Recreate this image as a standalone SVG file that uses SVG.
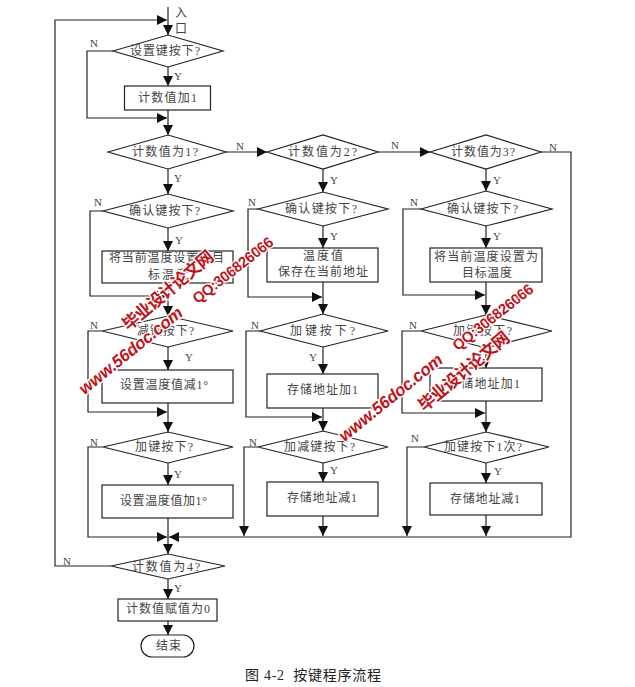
<svg xmlns="http://www.w3.org/2000/svg" width="635" height="687" viewBox="0 0 635 687">
<style>
.s{fill:#fff;stroke:#222;stroke-width:1.2}
.c{fill:none;stroke:#222;stroke-width:1.2;marker-end:url(#a)}
.p{fill:none;stroke:#222;stroke-width:1.2}
text{font-family:"Liberation Serif","Noto Sans CJK SC",serif;font-size:12px;fill:#444;dominant-baseline:central}
.l{font-size:11px;fill:#444}
.cap{font-size:14px;fill:#222}
.w{font-family:"Liberation Sans","Noto Sans CJK SC",sans-serif;font-weight:700;fill:#bd141c;stroke:#fff;stroke-width:2.5;paint-order:stroke;font-size:17px}
</style>
<defs><marker id="a" markerUnits="userSpaceOnUse" markerWidth="11" markerHeight="10" refX="10" refY="5" orient="auto"><path d="M0 0L10 5L0 10Z" fill="#111"/></marker></defs>
<rect width="635" height="687" fill="#fff"/>
<g id="connectors">
<path class="c" d="M168 7V35"/>
<path class="c" d="M111 566H55V20H167"/>
<path class="c" d="M168 67V86"/>
<path class="c" d="M168 110V135"/>
<path class="c" d="M113 51H87V118H167"/>
<path class="c" d="M168 169V194"/>
<path class="c" d="M226 152H267"/>
<path class="c" d="M378 152H430"/>
<path class="c" d="M541 152H571V537H169"/>
<path class="c" d="M168 228V251"/>
<path class="c" d="M103 211H90V296H167"/>
<path class="c" d="M168 283V316"/>
<path class="c" d="M168 347V370"/>
<path class="c" d="M102 331H88V412H167"/>
<path class="c" d="M168 403V432"/>
<path class="c" d="M168 463V485"/>
<path class="c" d="M103 447H88V537H167"/>
<path class="p" d="M168 518V537"/>
<path class="c" d="M168 537V554"/>
<path class="c" d="M168 579V599"/>
<path class="c" d="M168 621V635"/>
<path class="c" d="M323 169V192"/>
<path class="c" d="M323 226V248"/>
<path class="c" d="M258 209H248V297H322"/>
<path class="c" d="M323 282V314"/>
<path class="c" d="M323 347V374"/>
<path class="c" d="M260 331H246V417H322"/>
<path class="c" d="M323 408V431"/>
<path class="c" d="M323 463V482"/>
<path class="c" d="M258 447H244V536"/>
<path class="c" d="M323 516V536"/>
<path class="c" d="M486 169V191"/>
<path class="c" d="M486 226V248"/>
<path class="c" d="M421 209H403V295H485"/>
<path class="c" d="M486 282V315"/>
<path class="c" d="M486 348V368"/>
<path class="c" d="M421 331H402V413H485"/>
<path class="c" d="M486 401V432"/>
<path class="c" d="M486 463V483"/>
<path class="c" d="M424 447H407V536"/>
<path class="c" d="M486 515V536"/>
</g>
<g id="entry"><text x="175" y="13">入</text><text x="175" y="29">口</text></g>
<g id="d1"><path class="s" d="M113 51L168 35L223 51L168 67Z"/><text x="130" y="51" textLength="70">设置键按下?</text></g>
<g id="r1"><rect class="s" x="124.500" y="86" width="86" height="24"/><text x="138" y="98" textLength="59">计数值加1</text></g>
<g id="d2"><path class="s" d="M108 152L168 135L226 152L168 169Z"/><text x="132" y="152" textLength="66">计数值为1?</text></g>
<g id="d3"><path class="s" d="M267 152L323 135L378 152L323 169Z"/><text x="288" y="152" textLength="69">计数值为2?</text></g>
<g id="d4"><path class="s" d="M430 152L486 135L541 152L486 169Z"/><text x="451" y="152" textLength="64">计数值为3?</text></g>
<g id="d5"><path class="s" d="M103 211L168 194L233 211L168 228Z"/><text x="129" y="211" textLength="71">确认键按下?</text></g>
<g id="d6"><path class="s" d="M258 209L323 192L388 209L323 226Z"/><text x="285" y="209" textLength="72">确认键按下?</text></g>
<g id="d7"><path class="s" d="M421 209L486 191L552 209L486 226Z"/><text x="447" y="209" textLength="71">确认键按下?</text></g>
<g id="r2"><rect class="s" x="102" y="251" width="131" height="32"/><text x="109" y="258" textLength="115">将当前温度设置为目</text><text x="148" y="275" textLength="40">标温度</text></g>
<g id="r3"><rect class="s" x="267" y="248" width="111" height="34"/><text x="303" y="256" textLength="40">温度值</text><text x="278" y="272" textLength="90">保存在当前地址</text></g>
<g id="r4"><rect class="s" x="430" y="248" width="112" height="34"/><text x="434" y="257" textLength="104">将当前温度设置为</text><text x="462" y="273" textLength="50">目标温度</text></g>
<g id="d8"><path class="s" d="M102 331L168 316L233 331L168 347Z"/><text x="137" y="331" textLength="57">减键按下?</text></g>
<g id="d9"><path class="s" d="M260 331L323 314L388 331L323 347Z"/><text x="290" y="331" textLength="65">加键按下?</text></g>
<g id="d10"><path class="s" d="M421 331L486 315L552 331L486 348Z"/><text x="453" y="331" textLength="59">加键按下?</text></g>
<g id="r5"><rect class="s" x="102" y="370" width="131" height="33"/><text x="120" y="385" textLength="88">设置温度值减1°</text></g>
<g id="r6"><rect class="s" x="267" y="374" width="111" height="34"/><text x="287" y="390" textLength="71">存储地址加1</text></g>
<g id="r7"><rect class="s" x="430" y="368" width="112" height="33"/><text x="448" y="384" textLength="72">存储地址加1</text></g>
<g id="d11"><path class="s" d="M103 447L168 432L233 447L168 463Z"/><text x="135" y="447" textLength="58">加键按下?</text></g>
<g id="d12"><path class="s" d="M258 447L323 431L388 447L323 463Z"/><text x="284" y="447" textLength="71">加减键按下?</text></g>
<g id="d13"><path class="s" d="M424 447L486 432L549 447L486 463Z"/><text x="444" y="447" textLength="78">加键按下1次?</text></g>
<g id="r8"><rect class="s" x="102" y="485" width="131" height="33"/><text x="120" y="501" textLength="87">设置温度值加1°</text></g>
<g id="r9"><rect class="s" x="267" y="482" width="111" height="34"/><text x="287" y="498" textLength="70">存储地址减1</text></g>
<g id="r10"><rect class="s" x="430" y="483" width="112" height="32"/><text x="450" y="499" textLength="70">存储地址减1</text></g>
<g id="d14"><path class="s" d="M111 566L168 554L225 566L168 579Z"/><text x="132" y="567" textLength="68">计数值为4?</text></g>
<g id="r11"><rect class="s" x="118" y="599" width="99" height="22"/><text x="126" y="609" textLength="84">计数值赋值为0</text></g>
<g id="end"><rect class="s" x="141" y="635" width="53" height="22" rx="11"/><text x="156" y="646" textLength="25">结束</text></g>
<g id="labels">
<text class="l" x="90" y="43">N</text><text class="l" x="174" y="76">Y</text><text class="l" x="236" y="146">N</text><text class="l" x="174" y="178">Y</text><text class="l" x="94" y="202">N</text><text class="l" x="248" y="202">N</text><text class="l" x="330" y="180">Y</text><text class="l" x="391" y="145">N</text><text class="l" x="549" y="147">N</text><text class="l" x="493" y="180">Y</text><text class="l" x="410" y="202">N</text><text class="l" x="493" y="236">Y</text><text class="l" x="330" y="236">Y</text><text class="l" x="409" y="325">N</text><text class="l" x="175" y="240">Y</text><text class="l" x="90" y="325">N</text><text class="l" x="185" y="357">Y</text><text class="l" x="90" y="442">N</text><text class="l" x="251" y="325">N</text><text class="l" x="309" y="357">Y</text><text class="l" x="249" y="442">N</text><text class="l" x="411" y="438">N</text><text class="l" x="494" y="471">Y</text><text class="l" x="174" y="474">Y</text><text class="l" x="330" y="470">Y</text><text class="l" x="63" y="561">N</text><text class="l" x="174" y="588">Y</text>
</g>
<text class="cap" x="245" y="675" textLength="136">图 4-2&#160;&#160;按键程序流程</text>
<g id="watermark">
<text class="w" transform="translate(81 391) rotate(-39)" textLength="128" font-style="italic">www.56doc.com</text>
<text class="w" transform="translate(125 327) rotate(-40)" textLength="113">毕业设计论文网</text>
<text class="w" transform="translate(194 300) rotate(-38)" textLength="98" style="font-size:15px">QQ:306826066</text>
<text class="w" transform="translate(341 438) rotate(-39)" textLength="128" font-style="italic">www.56doc.com</text>
<text class="w" transform="translate(421 408) rotate(-40)" textLength="113">毕业设计论文网</text>
<text class="w" transform="translate(454 347) rotate(-38)" textLength="98" style="font-size:15px">QQ:306826066</text>
</g>
</svg>
